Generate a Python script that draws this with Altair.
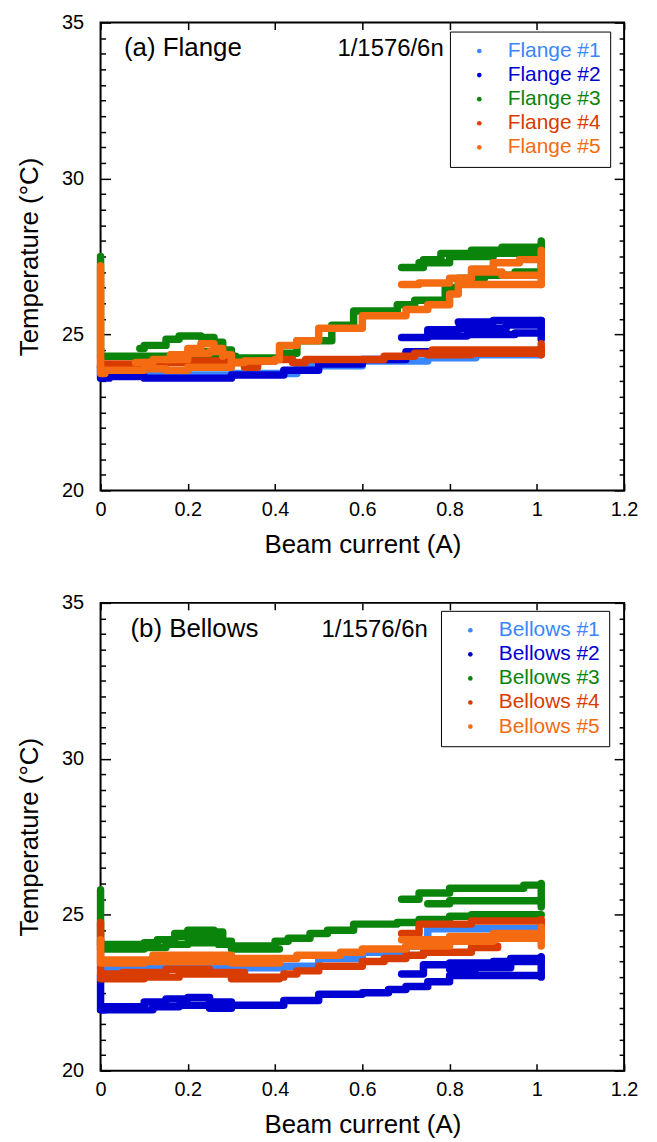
import altair as alt
import pandas as pd

FONT = "Liberation Sans"

X_TICKS = [0, 0.2, 0.4, 0.6, 0.8, 1.0, 1.2]
Y_MAJOR = [20, 25, 30, 35]
Y_MINOR = [v / 2 for v in range(40, 71) if v % 10 != 0]

FLANGE_NAMES = ["Flange #1", "Flange #2", "Flange #3", "Flange #4", "Flange #5"]
BELLOWS_NAMES = ["Bellows #1", "Bellows #2", "Bellows #3", "Bellows #4", "Bellows #5"]
COLORS = ["#3a86ff", "#0000d2", "#0b840b", "#d93c00", "#f46b12"]

PANEL_A = "(a) Flange"
PANEL_B = "(b) Bellows"
RUN_LABEL = "1/1576/6n"

# ---- (a) Flange: step branches (x list, y list) ----
FLANGE1 = [
    ([0, 0.30, 0.45, 0.60, 0.75, 0.86, 1.01], [23.7, 23.75, 24.0, 24.15, 24.25, 24.35, 24.4]),
]
FLANGE2 = [
    ([0, 0, 0.02, 0.10, 0.30, 0.42, 0.50, 0.60, 0.70, 1.01],
     [24.0, 23.6, 23.65, 23.6, 23.7, 23.85, 24.05, 24.2, 24.45, 24.45]),
    ([0.69, 0.75, 0.82, 0.93, 1.01], [24.9, 25.15, 25.2, 25.3, 25.3]),
    ([0.76, 0.84, 0.95, 1.01], [24.95, 25.0, 25.05, 25.0]),
    ([0.82, 0.90, 1.01], [25.4, 25.45, 25.45]),
    ([1.01, 1.01], [24.85, 25.45]),
]
FLANGE3 = [
    ([0, 0, 0.01, 0.31, 0.42, 0.45, 0.53, 0.58, 0.68, 0.72, 0.79, 0.82, 0.88, 0.95, 1.01],
     [27.5, 24.3, 24.3, 24.25, 24.4, 24.8, 25.3, 25.75, 25.95, 26.1, 26.5, 26.8, 26.9, 27.0, 27.0]),
    ([0.09, 0.10, 0.15, 0.18, 0.23, 0.26, 0.28, 0.30], [24.55, 24.65, 24.85, 24.95, 24.9, 24.75, 24.5, 24.3]),
    ([0.20, 0.22, 0.27, 0.29], [24.3, 24.45, 24.35, 24.3]),
    ([0.69, 0.74, 0.78, 0.85, 0.92, 1.01], [27.15, 27.4, 27.6, 27.7, 27.8, 27.85]),
    ([0.73, 0.80, 0.90, 1.01], [27.3, 27.5, 27.6, 27.7]),
    ([1.01, 1.01], [26.9, 28.0]),
]
FLANGE4 = [
    ([0, 0, 0.01, 0.10, 0.20, 0.30, 0.33, 0.36, 0.40, 0.44, 0.47, 0.55, 0.65, 0.72, 0.76, 1.01],
     [24.3, 23.95, 24.05, 24.1, 24.15, 24.1, 23.95, 24.15, 24.2, 24.1, 24.2, 24.2, 24.3, 24.4, 24.5, 24.5]),
    ([0.75, 0.85, 1.01], [24.35, 24.4, 24.4]),
    ([1.01, 1.01], [24.35, 24.7]),
]
FLANGE5 = [
    ([0, 0, 0.01, 0.10, 0.15, 0.20, 0.30, 0.33, 0.40, 0.41, 0.45, 0.50, 0.60, 0.70, 0.75, 0.80, 0.82, 1.01],
     [27.2, 23.75, 23.85, 23.9, 23.85, 23.95, 24.1, 24.15, 24.2, 24.65, 24.8, 25.2, 25.6, 25.8, 25.95, 26.3, 26.6, 26.65]),
    ([0.08, 0.12, 0.16, 0.20, 0.23, 0.26, 0.28, 0.30, 0.32], [24.1, 24.2, 24.35, 24.55, 24.7, 24.55, 24.35, 24.1, 24.1]),
    ([0.15, 0.20, 0.25, 0.28], [24.2, 24.4, 24.45, 24.3]),
    ([0.69, 0.73, 0.80, 0.85, 0.90, 0.96, 1.01], [26.6, 26.65, 26.8, 27.1, 27.3, 27.4, 27.45]),
    ([0.86, 0.92, 1.01], [27.0, 26.9, 26.95]),
    ([1.01, 1.01], [26.6, 27.7]),
]

# ---- (b) Bellows ----
BELLOWS1 = [
    ([0, 0.02, 0.42, 0.50, 0.60, 0.70, 0.75, 0.95, 1.01], [23.3, 23.3, 23.35, 23.6, 23.8, 24.0, 24.55, 24.55, 24.5]),
]
BELLOWS2 = [
    ([0, 0, 0.01, 0.10, 0.15, 0.20, 0.25, 0.30, 0.42, 0.50, 0.60, 0.66, 0.70, 0.75, 0.80, 1.01],
     [23.05, 21.95, 22.05, 22.2, 22.3, 22.35, 22.2, 22.1, 22.25, 22.45, 22.5, 22.6, 22.7, 22.85, 23.05, 23.1]),
    ([0, 0.05, 0.12, 0.18, 0.25, 0.30], [21.95, 21.95, 22.05, 22.1, 22.0, 22.0]),
    ([0.69, 0.74, 0.80, 0.90, 1.01], [23.1, 23.4, 23.45, 23.5, 23.55]),
    ([0.80, 0.86, 0.94, 1.01], [23.25, 23.3, 23.6, 23.6]),
    ([1.01, 1.01], [23.0, 23.65]),
]
BELLOWS3 = [
    ([0, 0, 0.01, 0.10, 0.13, 0.17, 0.25, 0.27, 0.30, 0.40, 0.43, 0.48, 0.52, 0.58, 0.68, 0.73, 0.80, 0.85, 1.01],
     [25.8, 24.0, 24.05, 24.1, 24.2, 24.3, 24.25, 24.15, 24.0, 24.15, 24.25, 24.4, 24.5, 24.7, 24.75, 24.85, 24.95, 25.0, 25.0]),
    ([0, 0.10, 0.15, 0.20, 0.27, 0.30, 0.41], [23.9, 23.95, 24.05, 24.1, 24.05, 23.9, 23.9]),
    ([0.17, 0.20, 0.26, 0.28], [24.4, 24.5, 24.45, 24.3]),
    ([0.69, 0.73, 0.80, 0.97, 1.01], [25.5, 25.7, 25.85, 25.95, 25.95]),
    ([0.75, 0.80, 0.90, 1.01], [25.35, 25.45, 25.45, 25.35]),
    ([1.01, 1.01], [25.25, 26.0]),
]
BELLOWS4 = [
    ([0, 0, 0.01, 0.05, 0.15, 0.25, 0.33, 0.36, 0.42, 0.45, 0.50, 0.60, 0.65, 0.70, 0.74, 0.85, 0.91],
     [24.75, 23.05, 23.1, 23.15, 23.25, 23.15, 23.0, 23.0, 23.1, 23.2, 23.35, 23.5, 23.6, 23.7, 23.8, 23.95, 24.0]),
    ([0, 0.10, 0.18, 0.25, 0.30, 0.41], [22.95, 23.0, 23.1, 23.1, 22.95, 22.95]),
    ([0.69, 0.73, 0.85, 1.01], [24.4, 24.7, 24.8, 24.8]),
    ([1.01, 1.01], [24.3, 24.85]),
]
BELLOWS5 = [
    ([0, 0, 0.01, 0.12, 0.30, 0.40, 0.45, 0.55, 0.60, 0.70, 0.80, 0.90, 1.01],
     [24.2, 23.5, 23.55, 23.7, 23.6, 23.6, 23.7, 23.8, 23.9, 24.0, 24.15, 24.25, 24.3]),
    ([0, 0.10, 0.30, 0.41], [23.45, 23.5, 23.45, 23.45]),
    ([0.69, 0.80, 0.90, 1.01], [24.2, 24.3, 24.4, 24.45]),
    ([1.01, 1.01], [24.0, 24.6]),
]


def build_df(names, series_list):
    rows = []
    for name, branches in zip(names, series_list):
        for b, (xs, ys) in enumerate(branches):
            for i, (xv, yv) in enumerate(zip(xs, ys)):
                rows.append({"series": name, "branch": f"{name}-{b}", "idx": i, "x": xv, "y": yv})
    return pd.DataFrame(rows)


def color_expr(names):
    parts = []
    for n, c in zip(names[:-1], COLORS[:-1]):
        parts.append(f"datum.label === '{n}' ? '{c}' : ")
    return "".join(parts) + f"'{COLORS[-1]}'"


def tick_axis(orient, values, size):
    return alt.Axis(orient=orient, values=values, labels=False, title=None, domain=False,
                    grid=False, ticks=True, tickSize={"expr": str(-size)}, tickWidth=1.5,
                    tickColor="black")


def panel(df, names, title_text, title_x, run_x, legend_x, legend_y):
    xs = alt.Scale(domain=[0, 1.2], nice=False, zero=False)
    ys = alt.Scale(domain=[20, 35], nice=False, zero=False)
    base = alt.Chart(df)
    expr = color_expr(names)
    legend = alt.Legend(
        title=None, orient="none", legendX=legend_x, legendY=legend_y, direction="vertical",
        symbolType="circle", symbolSize=22, symbolStrokeWidth=0,
        symbolFillColor={"expr": expr}, labelColor={"expr": expr},
        labelFont=FONT, labelFontSize=21, labelOffset=18, symbolOffset=10,
        padding=9, rowPadding=2.2, strokeColor="black", fillColor="white",
        labelLimit=0,
    )
    lines = base.mark_line(interpolate="step-after", strokeWidth=7.5, strokeJoin="round",
                           strokeCap="round").encode(
        x=alt.X("x:Q", scale=xs, axis=alt.Axis(orient="bottom", title="Beam current (A)", values=X_TICKS,
                                               ticks=False, domain=False, grid=False, labelPadding=9,
                                               labelFlush=False, format="~g", titlePadding=12)),
        y=alt.Y("y:Q", scale=ys, axis=alt.Axis(orient="left", title="Temperature (°C)", values=Y_MAJOR,
                                               ticks=False, domain=False, grid=False, labelPadding=17,
                                               labelFlush=False, titlePadding=19)),
        color=alt.Color("series:N", scale=alt.Scale(domain=names, range=COLORS), sort=names, legend=legend),
        detail="branch:N",
        order="idx:Q",
    )

    def inv(xaxis, yaxis):
        return base.mark_point(opacity=0).encode(
            x=alt.X("x:Q", scale=xs, axis=xaxis),
            y=alt.Y("y:Q", scale=ys, axis=yaxis),
        )

    l2 = inv(tick_axis("bottom", X_TICKS, 7), tick_axis("left", Y_MAJOR, 10))
    l3 = inv(tick_axis("top", X_TICKS, 7), tick_axis("left", Y_MINOR, 5))
    l4 = inv(None, tick_axis("right", Y_MAJOR, 10))
    l5 = inv(None, tick_axis("right", Y_MINOR, 5))

    txt_df = pd.DataFrame({"t": [title_text]})
    run_df = pd.DataFrame({"t": [RUN_LABEL]})
    t1 = alt.Chart(txt_df).mark_text(align="left", baseline="alphabetic", font=FONT, fontSize=26,
                                     color="black").encode(x=alt.value(title_x), y=alt.value(34), text="t:N")
    t2 = alt.Chart(run_df).mark_text(align="left", baseline="alphabetic", font=FONT, fontSize=24,
                                     color="black").encode(x=alt.value(run_x), y=alt.value(34), text="t:N")

    return alt.layer(lines, l2, l3, l4, l5, t1, t2).resolve_axis(x="independent", y="independent").properties(
        width=526, height=470)


df_a = build_df(FLANGE_NAMES, [FLANGE1, FLANGE2, FLANGE3, FLANGE4, FLANGE5])
df_b = build_df(BELLOWS_NAMES, [BELLOWS1, BELLOWS2, BELLOWS3, BELLOWS4, BELLOWS5])

top = panel(df_a, FLANGE_NAMES, PANEL_A, 23.5, 238, 351, 9)
bottom = panel(df_b, BELLOWS_NAMES, PANEL_B, 30, 222, 342, 8)

chart = alt.vconcat(top, bottom, spacing=34).resolve_scale(color="independent").properties(
    padding={"left": 7, "top": 1, "right": 10, "bottom": 5}
).configure_view(stroke="black", strokeWidth=2).configure_axis(
    labelFont=FONT, labelFontSize=20, labelColor="black",
    titleFont=FONT, titleFontSize=26, titleFontWeight="normal", titleColor="black",
)

chart.save("out.html", embed_options={"renderer": "svg", "actions": False})
